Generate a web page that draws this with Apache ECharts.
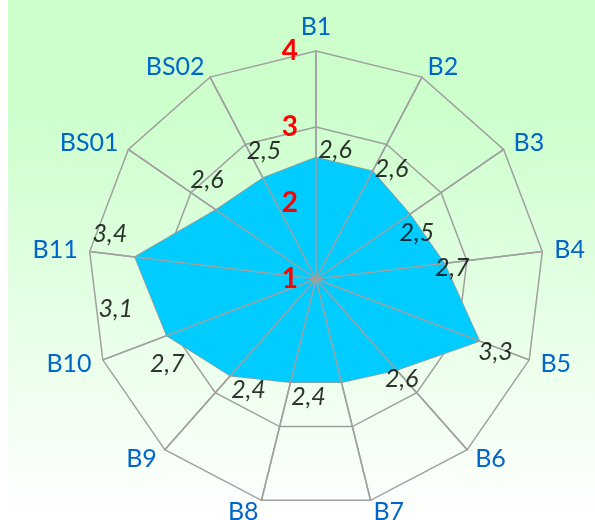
<!DOCTYPE html>
<html>
<head>
<meta charset="utf-8">
<script src="https://cdn.jsdelivr.net/npm/echarts@6/dist/echarts.min.js"></script>
<style>
html,body{margin:0;padding:0;background:#fff;}
#chart{width:595px;height:520px;}
</style>
</head>
<body>
<div id="chart"></div>
<script>
// ---- data (clockwise from top) ----
var categories = ['B1','B2','B3','B4','B5','B6','B7','B8','B9','B10','B11','BS01','BS02'];
var values     = [2.6, 2.6, 2.5, 2.7, 3.3, 2.6, 2.4, 2.4, 2.7, 3.1, 3.4, 2.6, 2.5];
var tickLabels = ['1','2','3','4'];
var axisMin = 1, axisMax = 4;

// label placement (style only, pixels relative to each point)
var labelOffsets = [[19,-7],[19,-2],[7,19],[8,5],[16,11],[5,9],[-33,15],[-42,8],[-63,-12],[-51,-27],[-25,-23],[-9,-30],[1,-27]];

var CX = 316, CY = 279, R = 228;
var FONT = 'Lato';

// ECharts radar runs counter-clockwise: reverse (keeping first at top)
var order = [0];
for (var k = categories.length - 1; k >= 1; k--) order.push(k);
var radarIndicators = order.map(function (i) { return { name: categories[i], min: axisMin, max: axisMax }; });
var radarValues = order.map(function (i) { return values[i]; });

var fmt = function (v) { return v.toFixed(1).replace('.', ','); };

var chart = echarts.init(document.getElementById('chart'), null, { renderer: 'canvas' });
chart.setOption({
  animation: false,
  backgroundColor: 'transparent',
  graphic: [{
    type: 'rect', z: -10, silent: true,
    shape: { x: 8, y: 0, width: 587, height: 520 },
    style: {
      fill: new echarts.graphic.LinearGradient(0, 0, 0, 1, [
        { offset: 0, color: '#CCFFCC' },
        { offset: 0.2, color: '#CCFFCC' },
        { offset: 1, color: '#FFFFFF' }
      ])
    }
  }],
  radar: [{
    center: [CX, CY], radius: R, startAngle: 90, splitNumber: 3, shape: 'polygon',
    indicator: radarIndicators,
    axisName: { color: '#0066CC', fontFamily: FONT, fontSize: 25 },
    nameGap: 12,
    splitLine: { lineStyle: { color: '#A0A0A0', width: 1.5 } },
    splitArea: { show: false },
    axisLine: { lineStyle: { color: '#A0A0A0', width: 1.5 } },
    axisLabel: { show: false },
    axisTick: { show: false }
  }, {
    z: 3,
    center: [CX, CY], radius: R, startAngle: 90, splitNumber: 3, shape: 'polygon',
    indicator: radarIndicators.map(function (d) { return { name: '', min: d.min, max: d.max }; }),
    axisName: { show: false },
    splitLine: { show: false },
    splitArea: { show: false },
    axisLine: { lineStyle: { color: '#A0A0A0', width: 1.5 } },
    axisLabel: { show: false },
    axisTick: { show: false }
  }],
  polar: { center: [CX, CY], radius: R },
  angleAxis: {
    type: 'category', data: categories, startAngle: 90, clockwise: true, boundaryGap: false,
    axisLine: { show: false }, axisTick: { show: false }, axisLabel: { show: false }, splitLine: { show: false }
  },
  radiusAxis: {
    type: 'value', min: axisMin, max: axisMax, interval: 1, z: 5,
    axisLine: { show: false }, axisTick: { show: false }, splitLine: { show: false },
    axisLabel: {
      margin: 18, color: '#FF0000', fontFamily: FONT, fontWeight: 'bold', fontSize: 28,
      formatter: function (v) { return tickLabels[Math.round(v - axisMin)]; }
    }
  },
  series: [{
    type: 'radar', radarIndex: 0, z: 2,
    symbol: 'none',
    lineStyle: { color: '#999999', width: 1.5 },
    areaStyle: { color: '#00CCFF', opacity: 1 },
    data: [{ value: radarValues }]
  }, {
    type: 'scatter', coordinateSystem: 'polar', z: 6,
    symbolSize: 0,
    label: {
      show: true, position: 'inside', color: '#000000', fontFamily: FONT, fontStyle: 'italic', fontSize: 25,
      formatter: function (p) { return fmt(p.value[0]); }
    },
    data: values.map(function (v, i) {
      return { value: [v, i], label: { offset: labelOffsets[i] } };
    })
  }]
});
</script>
</body>
</html>
